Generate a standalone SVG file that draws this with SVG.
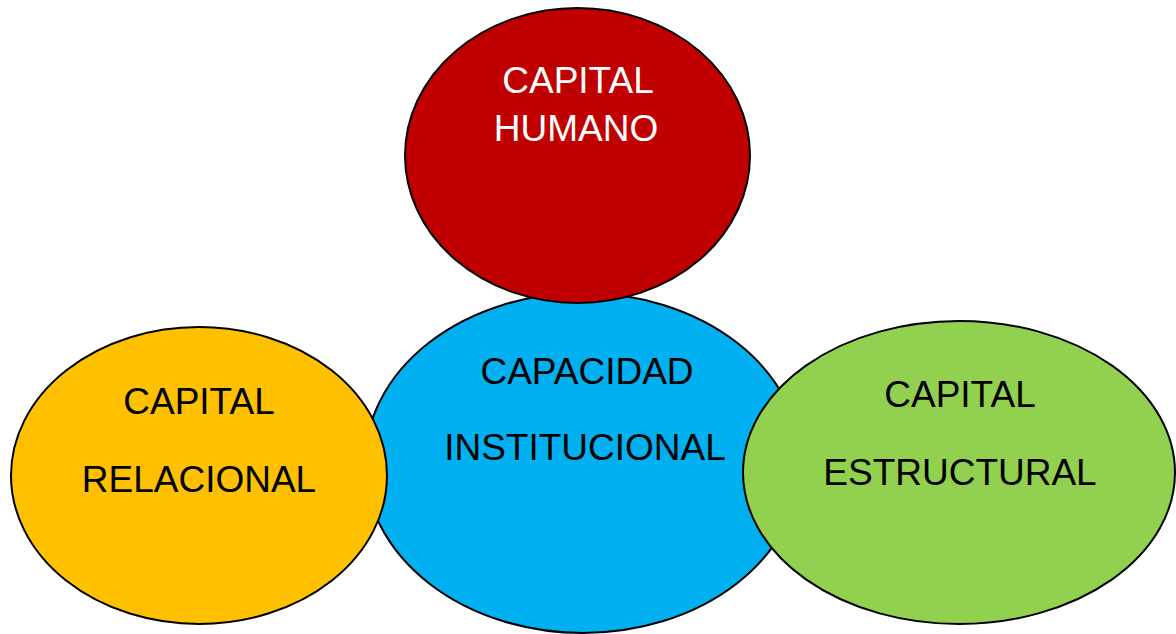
<svg xmlns="http://www.w3.org/2000/svg" width="1176" height="634" viewBox="0 0 1176 634">
<style>
.shape{stroke:#000;stroke-width:2}
.t{font-family:"Liberation Sans",Arial,sans-serif;font-size:37px;text-anchor:middle;fill:#000}
.w{fill:#fff}
</style>
<rect width="1176" height="634" fill="#fff"/>
<g id="connectors"></g>
<g id="capacidad-institucional">
<ellipse class="shape" cx="583" cy="463" rx="218" ry="170" fill="#00B0F0"/>
<text class="t" x="587" y="384">CAPACIDAD</text>
<text class="t" x="585" y="460">INSTITUCIONAL</text>
</g>
<g id="capital-relacional">
<ellipse class="shape" cx="199" cy="475.5" rx="188" ry="148.5" fill="#FFC000"/>
<text class="t" x="199" y="414">CAPITAL</text>
<text class="t" x="199" y="492">RELACIONAL</text>
</g>
<g id="capital-estructural">
<ellipse class="shape" cx="959" cy="472.5" rx="216" ry="151.5" fill="#92D050"/>
<text class="t" x="960" y="407">CAPITAL</text>
<text class="t" x="960" y="485">ESTRUCTURAL</text>
</g>
<g id="capital-humano">
<ellipse class="shape" cx="577.5" cy="155.5" rx="172.5" ry="147.5" fill="#C00000"/>
<text class="t w" x="578" y="93">CAPITAL</text>
<text class="t w" x="576" y="141">HUMANO</text>
</g>
</svg>
